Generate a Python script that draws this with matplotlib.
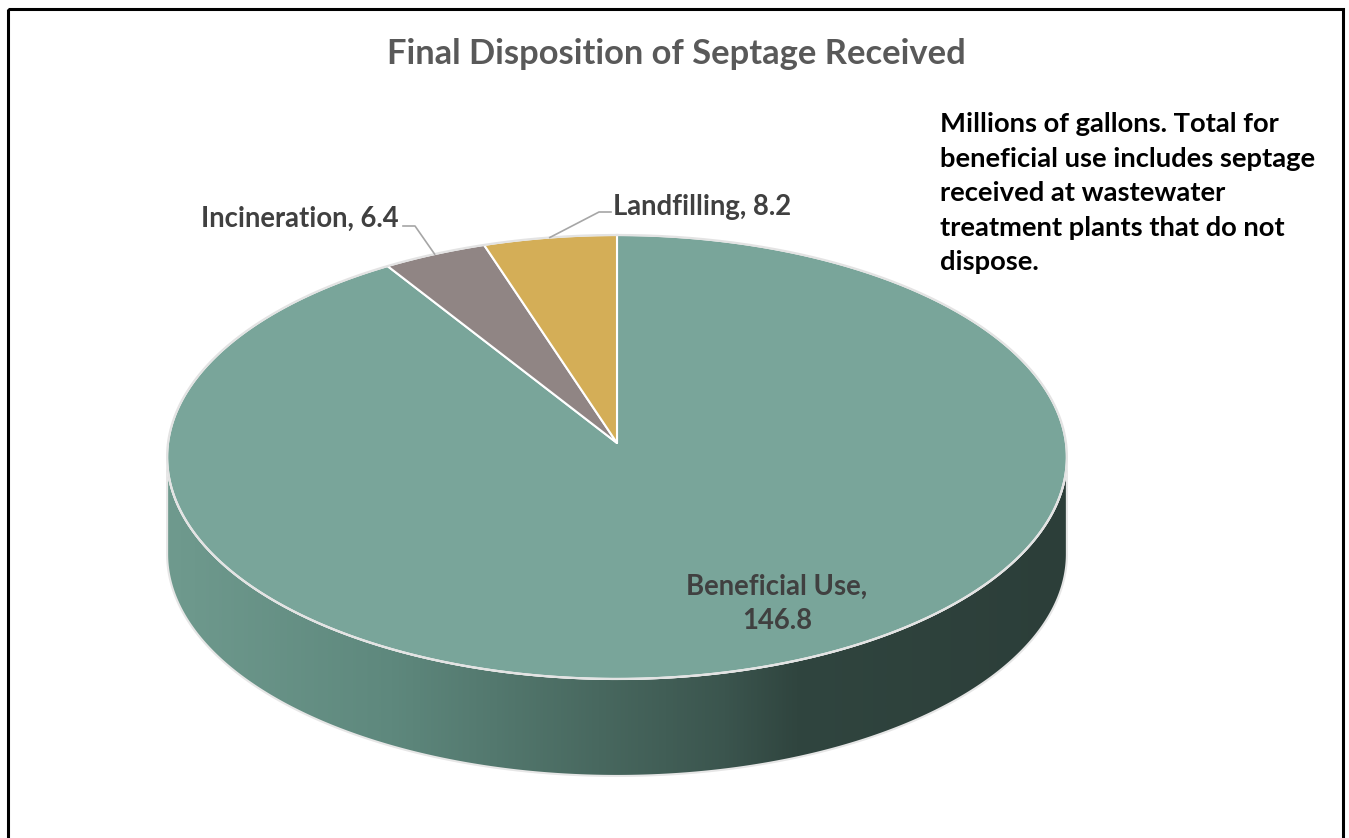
import numpy as np
import matplotlib
matplotlib.use("Agg")
import matplotlib.pyplot as plt
from matplotlib.patches import Polygon, Rectangle
from matplotlib.colors import LinearSegmentedColormap

plt.rcParams['font.family'] = ['Lato', 'DejaVu Sans']

# data
labels = ["Beneficial Use", "Incineration", "Landfilling"]
values = [146.8, 6.4, 8.2]
colors = ["#79a59a", "#908584", "#d4ae57"]
title = "Final Disposition of Septage Received"
note = ("Millions of gallons. Total for\nbeneficial use includes septage\n"
        "received at wastewater\ntreatment plants that do not\ndispose.")

# pie geometry in pixel space (perspective view of a flat disc)
CX, CY = 617, 443
A, B, K = 449, 221.1, -0.063
DEPTH = 97


def proj(phi_deg):
    # phi measured clockwise from 12 o'clock
    p = np.radians(phi_deg)
    u, v = np.sin(p), -np.cos(p)
    d = 1 + K * v
    return CX + A * u / d, CY + B * v / d


fig = plt.figure(figsize=(13.49, 8.38), dpi=100)
ax = fig.add_axes([0, 0, 1, 1])
ax.set_xlim(0, 1349)
ax.set_ylim(838, 0)
ax.axis("off")

# side wall (front half, visible part of Beneficial Use)
t = np.linspace(0, 360, 1441)
ex, ey = proj(t)
il, ir = np.argmin(ex), np.argmax(ex)
front = np.arange(ir, il + 1)  # from right extreme through bottom to left extreme
fx, fy = ex[front], ey[front]
side_pts = np.concatenate([np.column_stack([fx, fy]),
                           np.column_stack([fx[::-1], fy[::-1] + DEPTH])])
side = Polygon(side_pts, closed=True, facecolor="none", edgecolor="#e6e6e6", lw=1.5, zorder=2)
ax.add_patch(side)
grad = LinearSegmentedColormap.from_list("side", [
    (0.00, "#6f9a8e"), (0.25, "#5e887d"), (0.48, "#48685f"),
    (0.62, "#3b554e"), (0.70, "#30453f"), (1.00, "#2c3e39")])
xmin, xmax = fx.min(), fx.max()
img = ax.imshow(np.linspace(0, 1, 512)[None, :], cmap=grad, aspect="auto",
                extent=[xmin, xmax, fy.max() + DEPTH, fy.min()], zorder=1)
img.set_clip_path(side)

# top face slices
total = sum(values)
start = 0.0
mids = []
for lab, val, col in zip(labels, values, colors):
    span = val / total * 360
    a = np.linspace(start, start + span, max(int(span * 4), 4))
    px, py = proj(a)
    pts = np.vstack([[CX, CY], np.column_stack([px, py])])
    ax.add_patch(Polygon(pts, closed=True, facecolor=col, edgecolor="white",
                         lw=1.5, joinstyle="round", zorder=3))
    mids.append(start + span / 2)
    start += span

# outer rim highlight
ax.plot(ex, ey, color="#e3e3e3", lw=1.6, zorder=4)

lab_kw = dict(fontsize=19.8, fontweight="bold", color="#404040", zorder=6)
# Incineration label with leader
mx, my = proj(mids[1])
ax.plot([403, 415, mx], [226, 226, my], color="#a6a6a6", lw=1.2, zorder=5)
ax.text(399, 219, f"{labels[1]}, {values[1]}", ha="right", va="center", **lab_kw)
# Landfilling label with leader
mx, my = proj(mids[2])
ax.plot([611, 599, mx], [212, 212, my], color="#a6a6a6", lw=1.2, zorder=5)
ax.text(613, 207, f"{labels[2]}, {values[2]}", ha="left", va="center", **lab_kw)
# Beneficial Use label
ax.text(777, 604, f"{labels[0]},\n{values[0]}", ha="center", va="center",
        linespacing=1.37, **lab_kw)

ax.text(676, 54, title, ha="center", va="center", fontsize=24.8, fontweight="bold",
        color="#595959")
ax.text(940, 112, note, ha="left", va="top", fontsize=19.7, fontweight="bold",
        color="black", linespacing=1.53)

# chart border
ax.add_patch(Rectangle((8, 9), 1335, 840, fill=False, edgecolor="black", lw=2.2, zorder=7))

fig.savefig("out.png", dpi=100)
plt.close(fig)
